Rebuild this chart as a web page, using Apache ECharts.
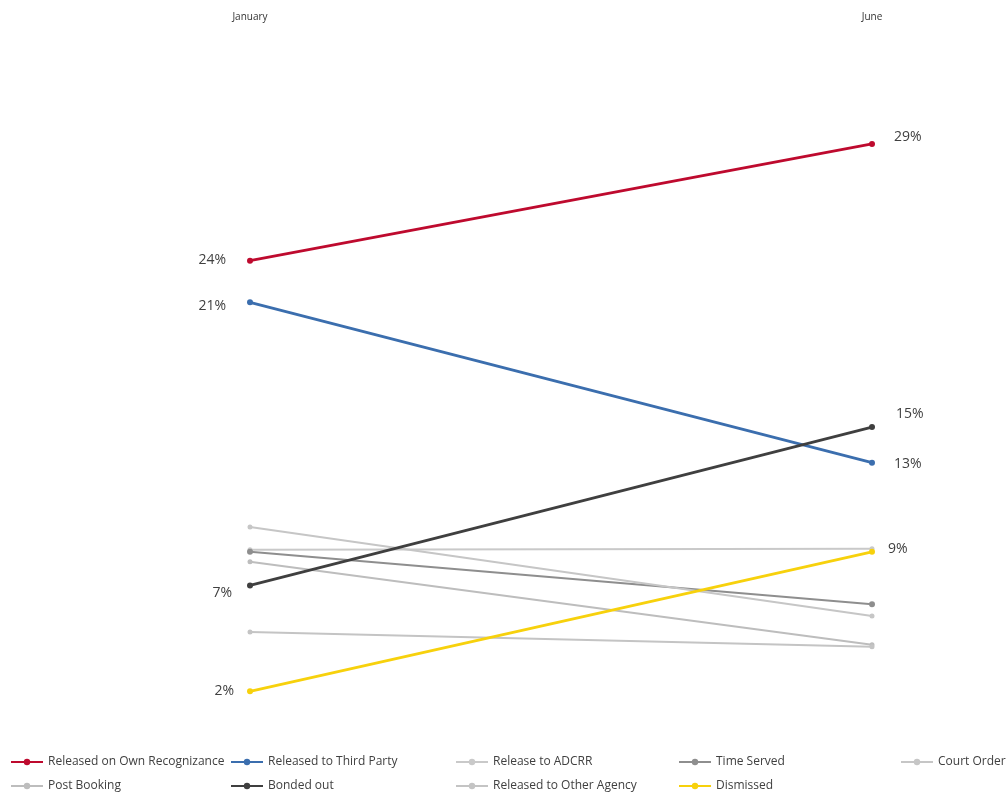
<!DOCTYPE html>
<html>
<head>
<meta charset="utf-8">
<script src="https://cdn.jsdelivr.net/npm/echarts@6/dist/echarts.min.js"></script>
<style>html,body{margin:0;padding:0;background:#fff;}#c{width:1006px;height:792px;}</style>
</head>
<body>
<div id="c"></div>
<script>
const categories = ['January', 'June'];
const seriesNames = ['Released on Own Recognizance','Released to Third Party','Release to ADCRR','Time Served','Court Order','Post Booking','Bonded out','Released to Other Agency','Dismissed'];
const ownRecognizance = [23.5, 29.4];
const thirdParty = [21.4, 13.3];
const releaseADCRR = [8.9, 8.95];
const timeServed = [8.8, 6.15];
const courtOrder = [10.05, 5.55];
const postBooking = [8.3, 4.1];
const bondedOut = [7.1, 15.1];
const otherAgency = [4.75, 4.0];
const dismissed = [1.75, 8.8];
const seriesValues = [ownRecognizance, thirdParty, releaseADCRR, timeServed, courtOrder, postBooking, bondedOut, otherAgency, dismissed];

const colors = ['#BE0A2E','#3B6EAE','#C9C9C9','#8E8E8E','#C6C6C6','#BDBDBD','#3F3F3F','#C4C4C4','#F7D10C'];
const widths = [2.8, 2.8, 2, 2.2, 2, 2, 2.8, 2, 2.8];
const labelled = [true, true, false, false, false, false, true, false, true];
const labelOffsets = {
  0: [[-16, -1], [14, -7]],
  1: [[-16, 4], [14, 1]],
  6: [[-10, 8], [16, -13]],
  8: [[-8, 0], [8, -3]]
};

const chart = echarts.init(document.getElementById('c'));
const series = seriesNames.map((name, si) => ({
  name: name,
  type: 'line',
  data: seriesValues[si].map((v, i) => {
    const item = { value: v };
    if (labelled[si]) {
      item.label = {
        show: true,
        position: i === 0 ? 'left' : 'right',
        offset: labelOffsets[si][i],
        formatter: p => Math.round(p.value) + '%',
        fontSize: 14,
        color: '#404040',
        fontFamily: 'Open Sans'
      };
    }
    return item;
  }),
  symbol: 'circle',
  symbolSize: labelled[si] || si === 3 ? 6 : 5,
  lineStyle: { color: colors[si], width: widths[si] },
  itemStyle: { color: colors[si] },
  z: labelled[si] ? 3 : 2,
  animation: false
}));

const legendLeft = [10, 230, 455, 678, 900, 10, 230, 455, 678];
const legendTop = [756, 756, 756, 756, 756, 780, 780, 780, 780];
const legends = seriesNames.map((n, i) => ({
  data: [n],
  left: legendLeft[i],
  top: legendTop[i],
  padding: 0,
  itemWidth: 32,
  itemHeight: 8,
  itemGap: 4,
  textStyle: { fontSize: 12, color: '#404040', fontFamily: 'Open Sans' },
  selectedMode: false
}));

chart.setOption({
  backgroundColor: '#ffffff',
  animation: false,
  legend: legends,
  grid: { left: 250, right: 134, top: 132, bottom: 66 },
  xAxis: {
    type: 'category',
    data: categories,
    position: 'top',
    boundaryGap: false,
    axisLine: { show: false },
    axisTick: { show: false },
    axisLabel: { margin: 110, fontSize: 10, color: '#333', fontFamily: 'Open Sans' },
    splitLine: { show: false }
  },
  yAxis: {
    type: 'value',
    min: 0,
    max: 30,
    show: false,
    splitLine: { show: false }
  },
  series: series
});
</script>
</body>
</html>
